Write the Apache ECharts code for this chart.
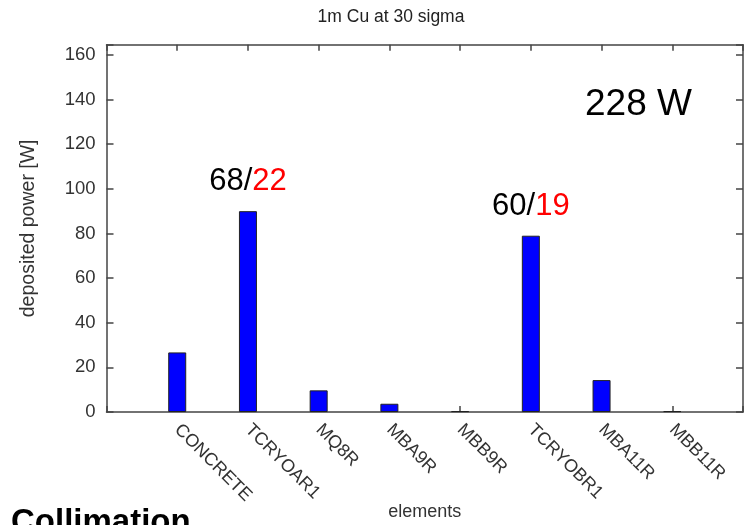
<!DOCTYPE html>
<html>
<head>
<meta charset="utf-8">
<script src="https://cdn.jsdelivr.net/npm/echarts@6/dist/echarts.min.js"></script>
<style>
  html, body { margin: 0; padding: 0; background: #fff; }
  #chart { width: 745px; height: 525px; }
</style>
</head>
<body>
<div id="chart"></div>
<script>
// Deposited power per beam-line element, 1 m Cu collimator at 30 sigma
const categories = ['CONCRETE', 'TCRYOAR1', 'MQ8R', 'MBA9R', 'MBB9R', 'TCRYOBR1', 'MBA11R', 'MBB11R'];
const power = [26.7, 90, 9.7, 3.7, 0.4, 79, 14.3, 0.4];

// Two-part breakdown shown above the collimator bars (black / red)
const splitElements = ['TCRYOAR1', 'TCRYOBR1'];
const splitFirst = [68, 60];
const splitSecond = [22, 19];

const totalPower = 228;
const yStep = 20;
const yTop = 164.6;

const FONT = "'Liberation Sans', Arial, sans-serif";
const AXIS_COLOR = '#444';

// Bars sit at x = 1..8 on a 0..9 value axis
const barData = categories.map((name, i) => {
  const item = { value: [i + 1, power[i]] };
  const k = splitElements.indexOf(name);
  if (k >= 0) {
    item.label = {
      show: true,
      position: 'top',
      distance: 14,
      formatter: '{a|' + splitFirst[k] + '/}{b|' + splitSecond[k] + '}',
      rich: {
        a: { color: '#000', fontSize: 31, fontFamily: FONT },
        b: { color: '#ff0000', fontSize: 31, fontFamily: FONT }
      }
    };
  }
  return item;
});

const chart = echarts.init(document.getElementById('chart'), null, { renderer: 'canvas' });

const frameAxis = {
  type: 'value',
  min: 0,
  axisLine: { show: true, onZero: false, lineStyle: { color: AXIS_COLOR, width: 1.5 } },
  axisTick: { show: true, inside: true, length: 6, lineStyle: { color: AXIS_COLOR, width: 1.5 } },
  splitLine: { show: false }
};

chart.setOption({
  animation: false,
  backgroundColor: '#fff',
  title: {
    text: '1m Cu at 30 sigma',
    left: 386,
    top: 3,
    textAlign: 'center',
    textStyle: { fontSize: 17.5, fontWeight: 'normal', color: '#222', fontFamily: FONT }
  },
  grid: { left: 106.5, right: 2, top: 44.7, bottom: 113, outerBoundsMode: 'none', containLabel: false },
  xAxis: [
    Object.assign({}, frameAxis, {
      position: 'bottom',
      max: 9,
      interval: 1,
      name: 'elements',
      nameLocation: 'middle',
      nameGap: 91,
      nameMoveOverlap: false,
      nameTextStyle: { fontSize: 18, color: '#333', fontFamily: FONT },
      axisLabel: {
        rotate: -45,
        margin: 15,
        fontSize: 18,
        color: '#333',
        fontFamily: FONT,
        formatter: v => categories[v - 1] || ''
      }
    }),
    Object.assign({}, frameAxis, {
      position: 'top',
      max: 9,
      interval: 1,
      axisLabel: { show: false }
    })
  ],
  yAxis: [
    Object.assign({}, frameAxis, {
      position: 'left',
      max: yTop,
      interval: yStep,
      name: 'deposited power [W]',
      nameLocation: 'middle',
      nameGap: 68,
      nameMoveOverlap: false,
      nameTextStyle: { fontSize: 19.5, color: '#333', fontFamily: FONT },
      axisTick: { show: true, inside: true, length: 7, lineStyle: { color: AXIS_COLOR, width: 1.5 } },
      axisLabel: {
        margin: 11,
        fontSize: 18.5,
        color: '#333',
        fontFamily: FONT,
        formatter: v => (v % yStep === 0 ? String(v) : '')
      }
    }),
    Object.assign({}, frameAxis, {
      position: 'right',
      max: yTop,
      interval: yStep,
      axisTick: { show: true, inside: true, length: 7, lineStyle: { color: AXIS_COLOR, width: 1.5 } },
      axisLabel: { show: false }
    })
  ],
  series: [{
    type: 'bar',
    xAxisIndex: 0,
    yAxisIndex: 0,
    barWidth: 18,
    itemStyle: { color: '#0000ff', borderColor: '#222', borderWidth: 1 },
    data: barData
  }],
  graphic: [
    {
      type: 'text',
      left: 585,
      top: 86,
      style: { text: totalPower + ' W', fill: '#000', font: '37px ' + FONT }
    },
    {
      type: 'text',
      left: 11,
      top: 506,
      style: { text: 'Collimation', fill: '#000', font: 'bold 33px ' + FONT }
    }
  ]
});
</script>
</body>
</html>
